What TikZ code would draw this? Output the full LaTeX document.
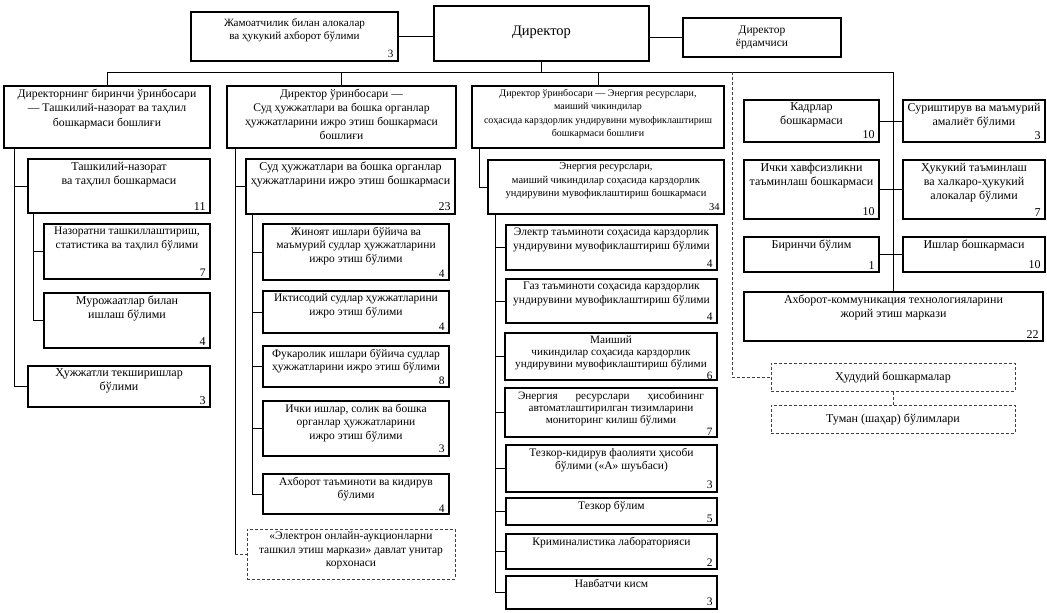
\documentclass[tikz,border=0pt]{standalone}
\usepackage{fontspec}
\setmainfont{Liberation Serif}
\newcommand\bx[8][]{%
  \pgfmathsetmacro\bxw{#5-#3}%
  \pgfmathsetmacro\bxh{#6-#4}%
  \pgfmathsetmacro\bxiw{#5-#3-4}%
  \pgfmathsetmacro\bxih{#6-#4-6}%
  \node[box,#1,minimum width=\bxw pt,minimum height=\bxh pt] (#2) at ({(#3+#5)/2},{(#4+#6)/2})
   {\begin{minipage}[t][\bxih pt][t]{\bxiw pt}\centering #7\par\vfill\raggedleft #8\hspace*{2.5pt}\end{minipage}};}
\tikzset{
  box/.style={draw, line width=1.2pt, inner xsep=2pt, inner ysep=3pt, font=\fontsize{11.5}{13.5}\selectfont},
  dbox/.style={draw=black!75, line width=1pt, dash pattern=on 3pt off 2pt},
  headsmall/.style={font=\fontsize{10}{13.5}\selectfont},
  mid/.style={font=\fontsize{10.5}{13.5}\selectfont},
  tight/.style={font=\fontsize{11.2}{12}\selectfont},
  big/.style={font=\fontsize{12}{14}\selectfont},
  conn/.style={line width=1pt},
  dconn/.style={line width=1pt, draw=black!75, dash pattern=on 3pt off 2pt}
}
\begin{document}
\begin{tikzpicture}[x=1pt,y=-1pt]
\useasboundingbox (0,0) rectangle (1047,613);
% top row
\node[box, minimum width=215pt, minimum height=55pt, font=\fontsize{14.5}{16}\selectfont] (dir) at (541.5,33.5) {Директор\rule[-6pt]{0pt}{0pt}};
\bx[font=\fontsize{11.1}{13}\selectfont]{jam}{191}{12}{398}{61}{\rule{0pt}{12pt}Жамоатчилик билан алокалар\\ва ҳукукий ахборот бўлими}{3}
\node[box, minimum width=158pt, minimum height=39pt, align=center, font=\fontsize{11.5}{12.5}\selectfont] (yor) at (762,37.5) {Директор\\ёрдамчиси};
% column heads
\bx[font=\fontsize{11.7}{14.5}\selectfont]{c1}{4}{86}{210}{148}{Директорнинг биринчи ўринбосари\\— Ташкилий-назорат ва таҳлил\\бошкармаси бошлиғи}{}
\bx[font=\fontsize{11.6}{14}\selectfont]{c2}{227}{86}{456}{148}{Директор ўринбосари —\\Суд ҳужжатлари ва бошка органлар\\ҳужжатларини ижро этиш бошкармаси\\бошлиғи}{}
\bx[headsmall]{c3}{472}{86}{724}{148}{Директор ўринбосари — Энергия ресурслари,\\маиший чикиндилар\\соҳасида карздорлик ундирувини мувофиклаштириш\\бошкармаси бошлиғи}{}
% column 1
\bx[big]{tn}{28}{159}{210}{213}{Ташкилий-назорат\\ва таҳлил бошкармаси}{11}
\bx{naz}{44}{224}{210}{279}{Назоратни ташкиллаштириш,\\статистика ва таҳлил бўлими}{7}
\bx[big]{mur}{44}{293}{210}{348}{Мурожаатлар билан\\ишлаш бўлими}{4}
\bx[big]{huj}{28}{366}{210}{407}{Ҳужжатли текширишлар\\бўлими}{3}
% column 2
\bx[big]{sud}{246}{159}{455}{214}{Суд ҳужжатлари ва бошка органлар\\ҳужжатларини ижро этиш бошкармаси}{23}
\bx{zhin}{263}{224}{449}{280}{Жиноят ишлари бўйича ва\\маъмурий судлар ҳужжатларини\\ижро этиш бўлими}{4}
\bx{ikt}{263}{291}{449}{333}{Иктисодий судлар ҳужжатларини\\ижро этиш бўлими}{4}
\bx{fuk}{263}{346}{449}{387}{Фукаролик ишлари бўйича судлар\\ҳужжатларини ижро этиш бўлими}{8}
\bx{ichk}{263}{401}{449}{456}{Ички ишлар, солик ва бошка\\органлар ҳужжатларини\\ижро этиш бўлими}{3}
\bx{axb}{263}{474}{449}{514}{Ахборот таъминоти ва кидирув\\бўлими}{4}
\bx[dbox]{eon}{247}{529}{455}{579}{«Электрон онлайн-аукционларни\\ташкил этиш маркази» давлат унитар\\корхонаси}{}
% column 3
\bx[mid]{en}{488}{160}{724}{214}{Энергия ресурслари,\\маиший чикиндилар соҳасида карздорлик\\ундирувини мувофиклаштириш бошкармаси}{34}
\bx{el}{506}{225}{717}{270}{Электр таъминоти соҳасида карздорлик\\ундирувини мувофиклаштириш бўлими}{4}
\bx{gaz}{506}{279}{717}{323}{Газ таъминоти соҳасида карздорлик\\ундирувини мувофиклаштириш бўлими}{4}
\bx[tight]{mai}{505}{333}{717}{380}{Маиший\\чикиндилар соҳасида карздорлик\\ундирувини мувофиклаштириш бўлими}{6}
\bx[tight]{mon}{505}{388}{717}{437}{Энергия\hspace{1.6em}ресурслари\hspace{1.6em}ҳисобининг\\автоматлаштирилган тизимларини\\мониторинг килиш бўлими}{7}
\bx{tkq}{506}{445}{717}{492}{Тезкор-кидирув фаолияти ҳисоби\\бўлими («А» шуъбаси)}{3}
\bx{tez}{506}{498}{717}{525}{Тезкор бўлим}{5}
\bx{krim}{506}{534}{717}{569}{Криминалистика лабораторияси}{2}
\bx{navb}{506}{576}{717}{609}{Навбатчи кисм}{3}
% right column
\bx[big]{kadr}{744}{100}{879}{142}{Кадрлар\\бошкармаси}{10}
\bx[big]{sur}{903}{100}{1045}{142}{Суриштирув ва маъмурий\\амалиёт бўлими}{3}
\bx[big]{ichx}{744}{160}{879}{219}{Ички хавфсизликни\\таъминлаш бошкармаси}{10}
\bx[big]{huk}{903}{160}{1045}{219}{Ҳукукий таъминлаш\\ва халкаро-ҳукукий\\алокалар бўлими}{7}
\bx[big]{bir}{744}{237}{879}{272}{Биринчи бўлим}{1}
\bx[big]{ish}{903}{237}{1045}{272}{Ишлар бошкармаси}{10}
\bx[big]{akt}{744}{292}{1043}{341}{Ахборот-коммуникация технологияларини\\жорий этиш маркази}{22}
\node[box, dbox, big, minimum width=244pt, minimum height=28pt] (hud) at (893,377) {Ҳудудий бошкармалар};
\node[box, dbox, big, minimum width=244pt, minimum height=28pt] (tum) at (893,419) {Туман (шаҳар) бўлимлари};
% connectors
\coordinate (bus) at (0,72);
\coordinate (dtop) at (732,72);
\draw[conn] (jam.east) -- (jam.east -| dir.west);
\draw[conn] (dir.east |- yor.west) -- (yor.west);
\draw[conn] (dir.south) -- (dir.south |- bus);
\draw[conn] (c1.north) |- (bus -| akt.north) -- (akt.north);
\draw[conn] (c2.north) -- (c2.north |- bus);
\draw[conn] (c3.north) -- (c3.north |- bus);
\draw[dconn] (dtop) |- (hud.west);
\draw[dconn] (hud.south) -- (tum.north);
% column 1
\coordinate (v1) at ([xshift=11pt]c1.south west);
\draw[conn] (v1) |- (tn.west);
\draw[conn] (v1) |- (huj.west);
\coordinate (v1b) at ([xshift=6pt]tn.south west);
\draw[conn] (v1b) |- (naz.west);
\draw[conn] (v1b) |- (mur.west);
% column 2
\coordinate (v2) at ([xshift=9pt]c2.south west);
\draw[conn] (v2) |- (sud.west);
\draw[conn] (v2) -- (v2 |- eon.west);
\draw[dconn] (v2 |- eon.west) -- (eon.west);
\coordinate (v2b) at ([xshift=7pt]sud.south west);
\foreach \n in {zhin,ikt,fuk,ichk,axb} \draw[conn] (v2b) |- (\n.west);
% column 3
\coordinate (v3) at ([xshift=8pt]c3.south west);
\draw[conn] (v3) |- (en.west);
\coordinate (v3b) at ([xshift=8pt]en.south west);
\foreach \n in {el,gaz,mai,mon,tkq,tez,krim,navb} \draw[conn] (v3b) |- (\n.west);
% right column
\draw[conn] (kadr.east) -- (sur.west);
\draw[conn] (ichx.east) -- (huk.west);
\draw[conn] (bir.east) -- (ish.west);
\end{tikzpicture}
\end{document}
